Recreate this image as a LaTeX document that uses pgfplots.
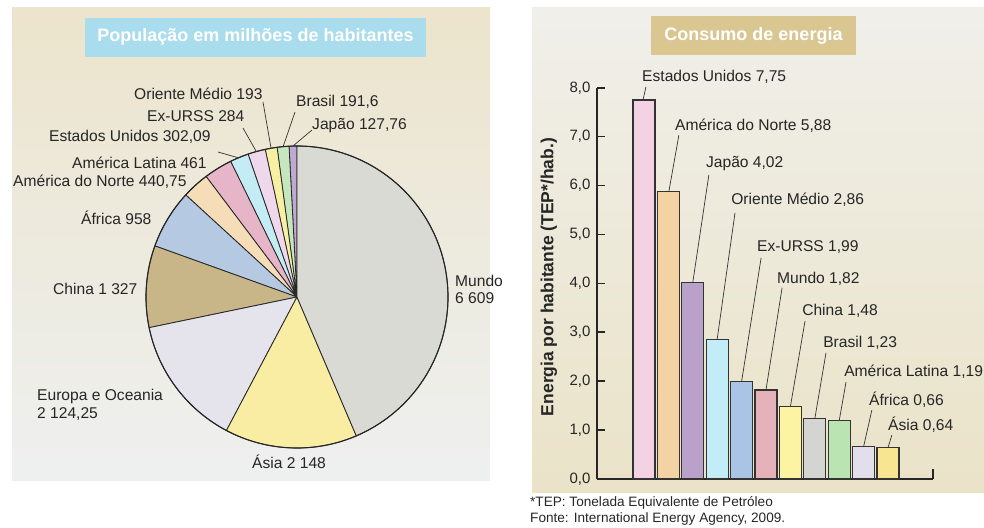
\documentclass[border=0pt]{standalone}
\usepackage{fontspec}
\setmainfont{Liberation Sans}
\usepackage{pgfplots}
\pgfplotsset{compat=1.18}
\definecolor{bgA}{HTML}{ECE4CC}
\definecolor{bgB}{HTML}{EEF0F0}
\definecolor{bgC}{HTML}{F0EFEA}
\definecolor{bgD}{HTML}{EAE3C8}
\definecolor{tcyan}{HTML}{A9DCEC}
\definecolor{ttan}{HTML}{D9C690}
% pie colours
\definecolor{pJap}{HTML}{BFA8D2}
\definecolor{pBra}{HTML}{C6E6BE}
\definecolor{pOM}{HTML}{F7F0A2}
\definecolor{pURSS}{HTML}{F0D8EC}
\definecolor{pEUA}{HTML}{C4ECF4}
\definecolor{pAL}{HTML}{E6B6C8}
\definecolor{pAN}{HTML}{F5DDB8}
\definecolor{pAfr}{HTML}{B5C9E2}
\definecolor{pChi}{HTML}{C8B689}
\definecolor{pEur}{HTML}{E5E3EC}
\definecolor{pAsi}{HTML}{F8EDA2}
\definecolor{pMun}{HTML}{DADAD5}
% bar colours
\definecolor{bEUA}{HTML}{F3D2E4}
\definecolor{bAN}{HTML}{F3D3A4}
\definecolor{bJap}{HTML}{B9A1C9}
\definecolor{bOM}{HTML}{C2ECF8}
\definecolor{bURSS}{HTML}{A9C4E4}
\definecolor{bMun}{HTML}{E6B2BA}
\definecolor{bChi}{HTML}{FCF4A2}
\definecolor{bBra}{HTML}{D4D4D2}
\definecolor{bAL}{HTML}{BAE4B2}
\definecolor{bAfr}{HTML}{E2DEEC}
\definecolor{bAsi}{HTML}{F7E592}
\def\total{15166.45}
\def\cum{90}
\newcommand\pieslice[2]{%
  \pgfmathsetmacro\sa{\cum}%
  \pgfmathsetmacro\sb{\cum+#1/\total*360}%
  \xdef\cum{\sb}%
  \edef\doslice{\noexpand\addplot[draw=black!85, line width=0.8pt, line join=round, fill=#2, domain=0:62, samples=63]
    ({(x>0.5)*(x<61.5)*151*cos(\sa+(x-1)/60*(\sb-\sa))},{(x>0.5)*(x<61.5)*151*sin(\sa+(x-1)/60*(\sb-\sa))});}%
  \doslice}
\begin{document}
\begin{tikzpicture}[x=1pt,y=1pt]
\path[use as bounding box] (0,0) rectangle (984,527);
% backgrounds
\shade[top color=bgA, bottom color=bgB] (12,47) rectangle (490,519);
\shade[top color=bgC, bottom color=bgD] (532,35) rectangle (984,519);
% titles
\fill[tcyan] (85,470) rectangle (426,509);
\node[text=white, font=\bfseries\fontsize{18}{20}\selectfont] at (255.5,490) {População em milhões de habitantes};
\fill[ttan] (651,472) rectangle (856,511);
\node[text=white, font=\bfseries\fontsize{18}{20}\selectfont] at (753.5,491) {Consumo de energia};
% ---------------- pie ----------------
\begin{axis}[at={(297pt,230pt)}, anchor=center, x=1pt, y=1pt,
  xmin=-160, xmax=160, ymin=-160, ymax=160, hide axis, clip=false]
\pieslice{127.76}{pJap}
\pieslice{191.6}{pBra}
\pieslice{193}{pOM}
\pieslice{284}{pURSS}
\pieslice{302.09}{pEUA}
\pieslice{461}{pAL}
\pieslice{440.75}{pAN}
\pieslice{958}{pAfr}
\pieslice{1327}{pChi}
\pieslice{2124.25}{pEur}
\pieslice{2148}{pAsi}
\pieslice{6609}{pMun}
\draw[black!85, line width=1.1pt] (axis cs:0,0) circle[radius=151pt];
\begin{scope}[every node/.style={font=\fontsize{15.6}{18}\selectfont, text=black!85, inner sep=0pt}]
\node[anchor=west] at (axis cs:-163,203) {Oriente Médio 193};
\node[anchor=west] at (axis cs:-1,195) {Brasil 191,6};
\node[anchor=west] at (axis cs:-150,181) {Ex-URSS 284};
\node[anchor=west] at (axis cs:15,171) {Japão 127,76};
\node[anchor=west] at (axis cs:-248,160) {Estados Unidos 302,09};
\node[anchor=west] at (axis cs:-225,134) {América Latina 461};
\node[anchor=west] at (axis cs:-284,115) {América do Norte 440,75};
\node[anchor=west] at (axis cs:-216,79) {África 958};
\node[anchor=west] at (axis cs:-244,8) {China 1 327};
\node[anchor=west] at (axis cs:-260,-99) {Europa e Oceania};
\node[anchor=west] at (axis cs:-260,-117) {2 124,25};
\node[anchor=west] at (axis cs:-45,-165) {Ásia 2 148};
\node[anchor=west] at (axis cs:158,16) {Mundo};
\node[anchor=west] at (axis cs:158,-1) {6 609};
\end{scope}
\begin{scope}[black!80, line width=0.7pt]
\draw (axis cs:-34,195) -- (axis cs:-26,149);
\draw (axis cs:-2,185) -- (axis cs:-14,150);
\draw (axis cs:-54,169) -- (axis cs:-41,146);
\draw (axis cs:15,167) -- (axis cs:-4,151);
\draw (axis cs:-79,145) -- (axis cs:-58,139);
\end{scope}
\end{axis}
% ---------------- bars ----------------
\begin{axis}[at={(597pt,48pt)}, anchor=south west, x=24.4pt, y=48.9pt,
  xmin=-1.925, xmax=11.845, ymin=0, ymax=8,
  axis x line=bottom, axis y line=left, axis line style={-, black!85, line width=1.8pt},
  xtick=\empty, ytick={0,1,...,8}, tick align=inside, major tick length=8pt,
  ytick style={black!85, line width=1.6pt},
  yticklabel style={font=\fontsize{15}{17}\selectfont, text=black!85, xshift=-3pt},
  /pgf/number format/.cd, use comma, fixed, fixed zerofill, precision=1, assume math mode=true,
  /pgfplots/.cd,
  ybar, bar width=22pt, bar shift=0pt, clip=false]
\addplot[fill=bEUA, draw=black!80, line width=1.1pt] coordinates {(0,7.75)};
\addplot[fill=bAN, draw=black!80, line width=1.1pt] coordinates {(1,5.88)};
\addplot[fill=bJap, draw=black!80, line width=1.1pt] coordinates {(2,4.02)};
\addplot[fill=bOM, draw=black!80, line width=1.1pt] coordinates {(3,2.86)};
\addplot[fill=bURSS, draw=black!80, line width=1.1pt] coordinates {(4,1.99)};
\addplot[fill=bMun, draw=black!80, line width=1.1pt] coordinates {(5,1.82)};
\addplot[fill=bChi, draw=black!80, line width=1.1pt] coordinates {(6,1.48)};
\addplot[fill=bBra, draw=black!80, line width=1.1pt] coordinates {(7,1.23)};
\addplot[fill=bAL, draw=black!80, line width=1.1pt] coordinates {(8,1.19)};
\addplot[fill=bAfr, draw=black!80, line width=1.1pt] coordinates {(9,0.66)};
\addplot[fill=bAsi, draw=black!80, line width=1.1pt] coordinates {(10,0.64)};
\draw[black!85, line width=1.8pt] (axis cs:11.845,0) -- (axis cs:11.845,0.2);
\begin{scope}[every node/.style={font=\fontsize{15.6}{18}\selectfont, text=black!85, inner sep=0pt, anchor=west}]
\node at (axis cs:-0.08,8.22) {Estados Unidos 7,75};
\node at (axis cs:1.27,7.22) {América do Norte 5,88};
\node at (axis cs:2.54,6.46) {Japão 4,02};
\node at (axis cs:3.57,5.71) {Oriente Médio 2,86};
\node at (axis cs:4.63,4.74) {Ex-URSS 1,99};
\node at (axis cs:5.45,4.09) {Mundo 1,82};
\node at (axis cs:6.48,3.44) {China 1,48};
\node at (axis cs:7.34,2.78) {Brasil 1,23};
\node at (axis cs:8.20,2.19) {América Latina 1,19};
\node at (axis cs:9.22,1.62) {África 0,66};
\node at (axis cs:10.0,1.10) {Ásia 0,64};
\end{scope}
\begin{scope}[black!80, line width=0.7pt]
\draw (axis cs:0.08,8.02) -- (axis cs:-0.04,7.75);
\draw (axis cs:1.43,7.03) -- (axis cs:1.02,5.88);
\draw (axis cs:2.66,6.22) -- (axis cs:2.0,4.02);
\draw (axis cs:3.73,5.44) -- (axis cs:3.0,2.86);
\draw (axis cs:4.80,4.52) -- (axis cs:4.0,1.99);
\draw (axis cs:5.66,3.91) -- (axis cs:5.0,1.82);
\draw (axis cs:6.60,3.23) -- (axis cs:6.0,1.48);
\draw (axis cs:7.46,2.58) -- (axis cs:7.0,1.23);
\draw (axis cs:8.28,1.98) -- (axis cs:8.0,1.19);
\draw (axis cs:9.34,1.41) -- (axis cs:9.0,0.66);
\draw (axis cs:10.16,0.90) -- (axis cs:10.0,0.64);
\end{scope}
\end{axis}
\node[rotate=90, font=\bfseries\fontsize{17.5}{20}\selectfont, text=black!85] at (549,250) {Energia por habitante (TEP*/hab.)};
\node[anchor=west, inner sep=0pt, font=\fontsize{13.6}{16}\selectfont, text=black!85] at (530,24) {*TEP: Tonelada Equivalente de Petróleo};
\node[anchor=west, inner sep=0pt, font=\fontsize{13.6}{16}\selectfont, text=black!85] at (530,8) {Fonte: International Energy Agency, 2009.};
\end{tikzpicture}
\end{document}
